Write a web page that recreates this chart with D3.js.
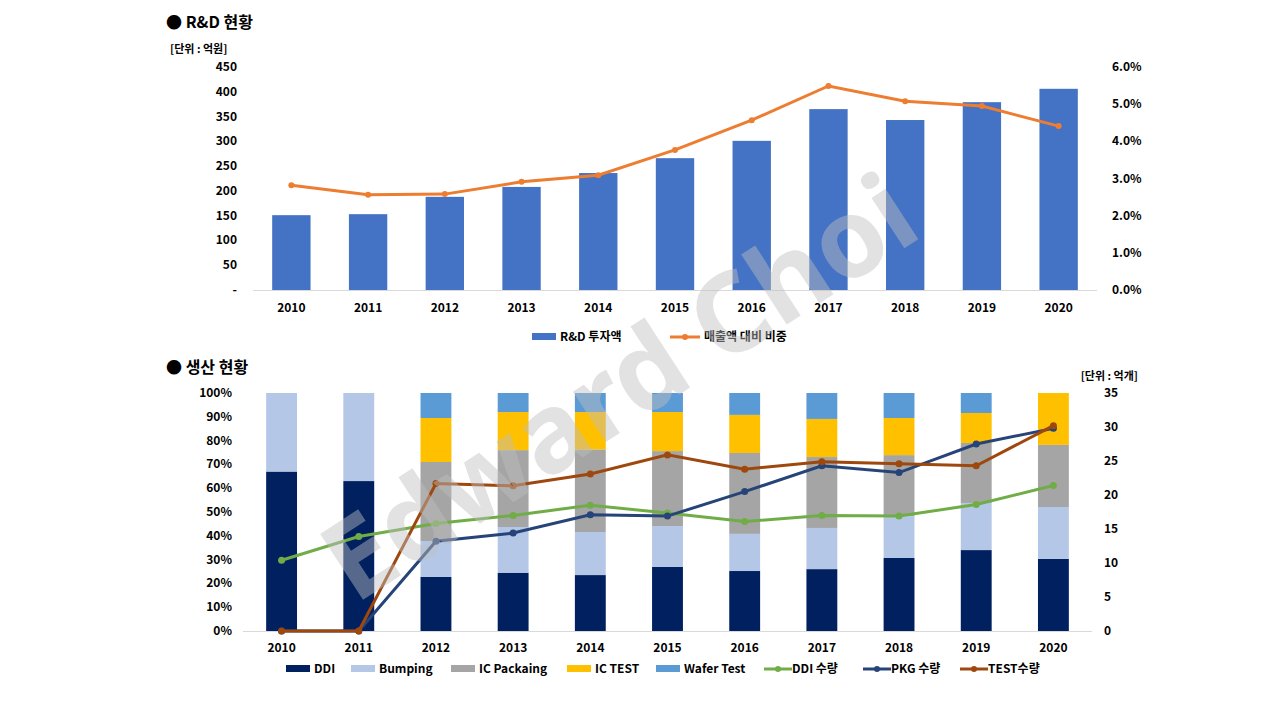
<!DOCTYPE html>
<html><head><meta charset="utf-8">
<script src="https://cdn.jsdelivr.net/npm/d3@7"></script>
<style>body{margin:0;background:#fff;font-family:"Noto Sans CJK KR","Noto Sans",sans-serif;}</style>
</head><body><svg id="c" width="1280" height="720"></svg>
<script>
const years = ["2010","2011","2012","2013","2014","2015","2016","2017","2018","2019","2020"];
// top chart
const rdInvest = [151,153,188,208,236,266,301,365,343,379,406];
const rdRatio = [2.82,2.56,2.58,2.91,3.09,3.77,4.57,5.49,5.08,4.95,4.41];
// bottom chart: shares (%)
const shDDI = [67,63,22.7,24.5,23.5,26.9,25.2,26,30.7,34,30.3];
const shBump = [33,37,15.1,19.2,18.1,17.2,15.6,17.3,17.6,19.8,21.8];
const shPack = [0,0,33.2,32.3,34.7,31.5,34,29.8,25.6,25.2,26.1];
const shTest = [0,0,18.5,16,15.7,16.4,16,16,15.6,12.6,21.8];
const shWafer = [0,0,10.5,8,8,8,9.2,10.9,10.5,8.4,0];
const qDDI = [10.4,13.9,15.8,17,18.5,17.35,16.1,17,16.9,18.6,21.4];
const qPKG = [0,0,13.2,14.4,17.1,16.9,20.5,24.3,23.3,27.5,29.8];
const qTEST = [0,0,21.7,21.35,23.1,25.9,23.8,24.9,24.6,24.3,30.2];

const svg = d3.select("#c");
const F = "'Noto Sans CJK KR','Noto Sans',sans-serif";
const txt = (x,y,s,o={}) => svg.append("text").attr("x",x).attr("y",y).text(s)
  .attr("font-family",F).attr("font-size",o.size||12).attr("font-weight",o.w||"bold")
  .attr("text-anchor",o.a||"start").attr("fill","#000");

// titles
txt(166,28,"●  R&D 현황",{size:16});
txt(170,53,"[단위 : 억원]",{size:11});
txt(166,373,"●  생산 현황",{size:16});
txt(1138,380,"[단위 : 억개]",{size:11,a:"end"});

// ---- top chart
const x1 = d3.scaleBand().domain(years).range([253,1097]).paddingInner(0.5).paddingOuter(0.25);
const y1 = d3.scaleLinear().domain([0,450]).range([290,67]);
const y1r = d3.scaleLinear().domain([0,6]).range([290,67]);
svg.append("g").selectAll("rect").data(years).join("rect")
  .attr("x",d=>x1(d)).attr("width",x1.bandwidth())
  .attr("y",(d,i)=>y1(rdInvest[i])).attr("height",(d,i)=>290-y1(rdInvest[i])).attr("fill","#4472c4");
svg.append("line").attr("x1",253).attr("x2",1097).attr("y1",290.5).attr("y2",290.5).attr("stroke","#d9d9d9");
y1.ticks(9).forEach(t=>txt(237,y1(t)+4,t===0?"-":t,{a:"end"}));
y1r.ticks(6).forEach(t=>txt(1112,y1r(t)+4,t.toFixed(1)+"%"));
years.forEach(y=>txt(x1(y)+x1.bandwidth()/2,312,y,{a:"middle"}));
const lx1 = d=>x1(d)+x1.bandwidth()/2;
svg.append("path").datum(rdRatio).attr("fill","none").attr("stroke","#ed7d31").attr("stroke-width",3)
  .attr("d",d3.line().x((d,i)=>lx1(years[i])).y(d=>y1r(d)));
svg.append("g").selectAll("circle").data(rdRatio).join("circle")
  .attr("cx",(d,i)=>lx1(years[i])).attr("cy",d=>y1r(d)).attr("r",3).attr("fill","#ed7d31");
// top legend
svg.append("rect").attr("x",532).attr("y",333).attr("width",24).attr("height",7).attr("fill","#4472c4");
txt(560,341,"R&D 투자액");
svg.append("line").attr("x1",670).attr("x2",700).attr("y1",337).attr("y2",337).attr("stroke","#ed7d31").attr("stroke-width",3);
svg.append("circle").attr("cx",685).attr("cy",337).attr("r",3).attr("fill","#ed7d31");
txt(704,341,"매출액 대비 비중");

// ---- bottom chart
const x2 = d3.scaleBand().domain(years).range([243,1092]).paddingInner(0.6).paddingOuter(0.3);
const y2 = d3.scaleLinear().domain([0,100]).range([631,393]);
const y2r = d3.scaleLinear().domain([0,35]).range([631,393]);
const stackKeys = ["DDI","Bumping","IC Packaing","IC TEST","Wafer Test"];
const stackCols = ["#002060","#b4c7e7","#a5a5a5","#ffc000","#5b9bd5"];
const rows = years.map((y,i)=>({year:y,"DDI":shDDI[i],"Bumping":shBump[i],"IC Packaing":shPack[i],"IC TEST":shTest[i],"Wafer Test":shWafer[i]}));
const series = d3.stack().keys(stackKeys)(rows);
svg.append("g").selectAll("g").data(series).join("g").attr("fill",(d,i)=>stackCols[i])
  .selectAll("rect").data(d=>d).join("rect")
  .attr("x",d=>x2(d.data.year)).attr("width",x2.bandwidth())
  .attr("y",d=>y2(d[1])).attr("height",d=>y2(d[0])-y2(d[1]));
svg.append("line").attr("x1",243).attr("x2",1092).attr("y1",631.5).attr("y2",631.5).attr("stroke","#d9d9d9");
y2.ticks(10).forEach(t=>txt(232,y2(t)+4,t+"%",{a:"end"}));
y2r.ticks(7).forEach(t=>txt(1104,y2r(t)+4,t));
years.forEach(y=>txt(x2(y)+x2.bandwidth()/2,652,y,{a:"middle"}));
const lx2 = d=>x2(d)+x2.bandwidth()/2;
const lines = [[qDDI,"#70ad47"],[qPKG,"#264478"],[qTEST,"#9e480e"]];
lines.forEach(([v,c])=>{
  svg.append("path").datum(v).attr("fill","none").attr("stroke",c).attr("stroke-width",3)
    .attr("d",d3.line().x((d,i)=>lx2(years[i])).y(d=>y2r(d)));
  svg.append("g").selectAll("circle").data(v).join("circle")
    .attr("cx",(d,i)=>lx2(years[i])).attr("cy",d=>y2r(d)).attr("r",3.5).attr("fill",c);
});
// bottom legend
const leg = [["DDI",286,"r","#002060"],["Bumping",351,"r","#b4c7e7"],["IC Packaing",451,"r","#a5a5a5"],
  ["IC TEST",567,"r","#ffc000"],["Wafer Test",656,"r","#5b9bd5"],
  ["DDI 수량",764,"l","#70ad47"],["PKG 수량",863,"l","#264478"],["TEST수량",960,"l","#9e480e"]];
leg.forEach(([n,x,t,c])=>{
  if(t==="r"){svg.append("rect").attr("x",x).attr("y",665).attr("width",24).attr("height",7).attr("fill",c);}
  else{svg.append("line").attr("x1",x).attr("x2",x+28).attr("y1",669).attr("y2",669).attr("stroke",c).attr("stroke-width",3);
    svg.append("circle").attr("cx",x+14).attr("cy",669).attr("r",3).attr("fill",c);}
  txt(x+28,673,n);
});

// watermark
svg.append("text").attr("transform","translate(640,420) rotate(-33)").attr("text-anchor","middle")
  .attr("font-family","'Noto Sans',sans-serif").attr("font-weight","bold").attr("font-size",110)
  .attr("fill","#bfbfbf").attr("opacity",0.45).text("Edward Choi");
</script></body></html>
